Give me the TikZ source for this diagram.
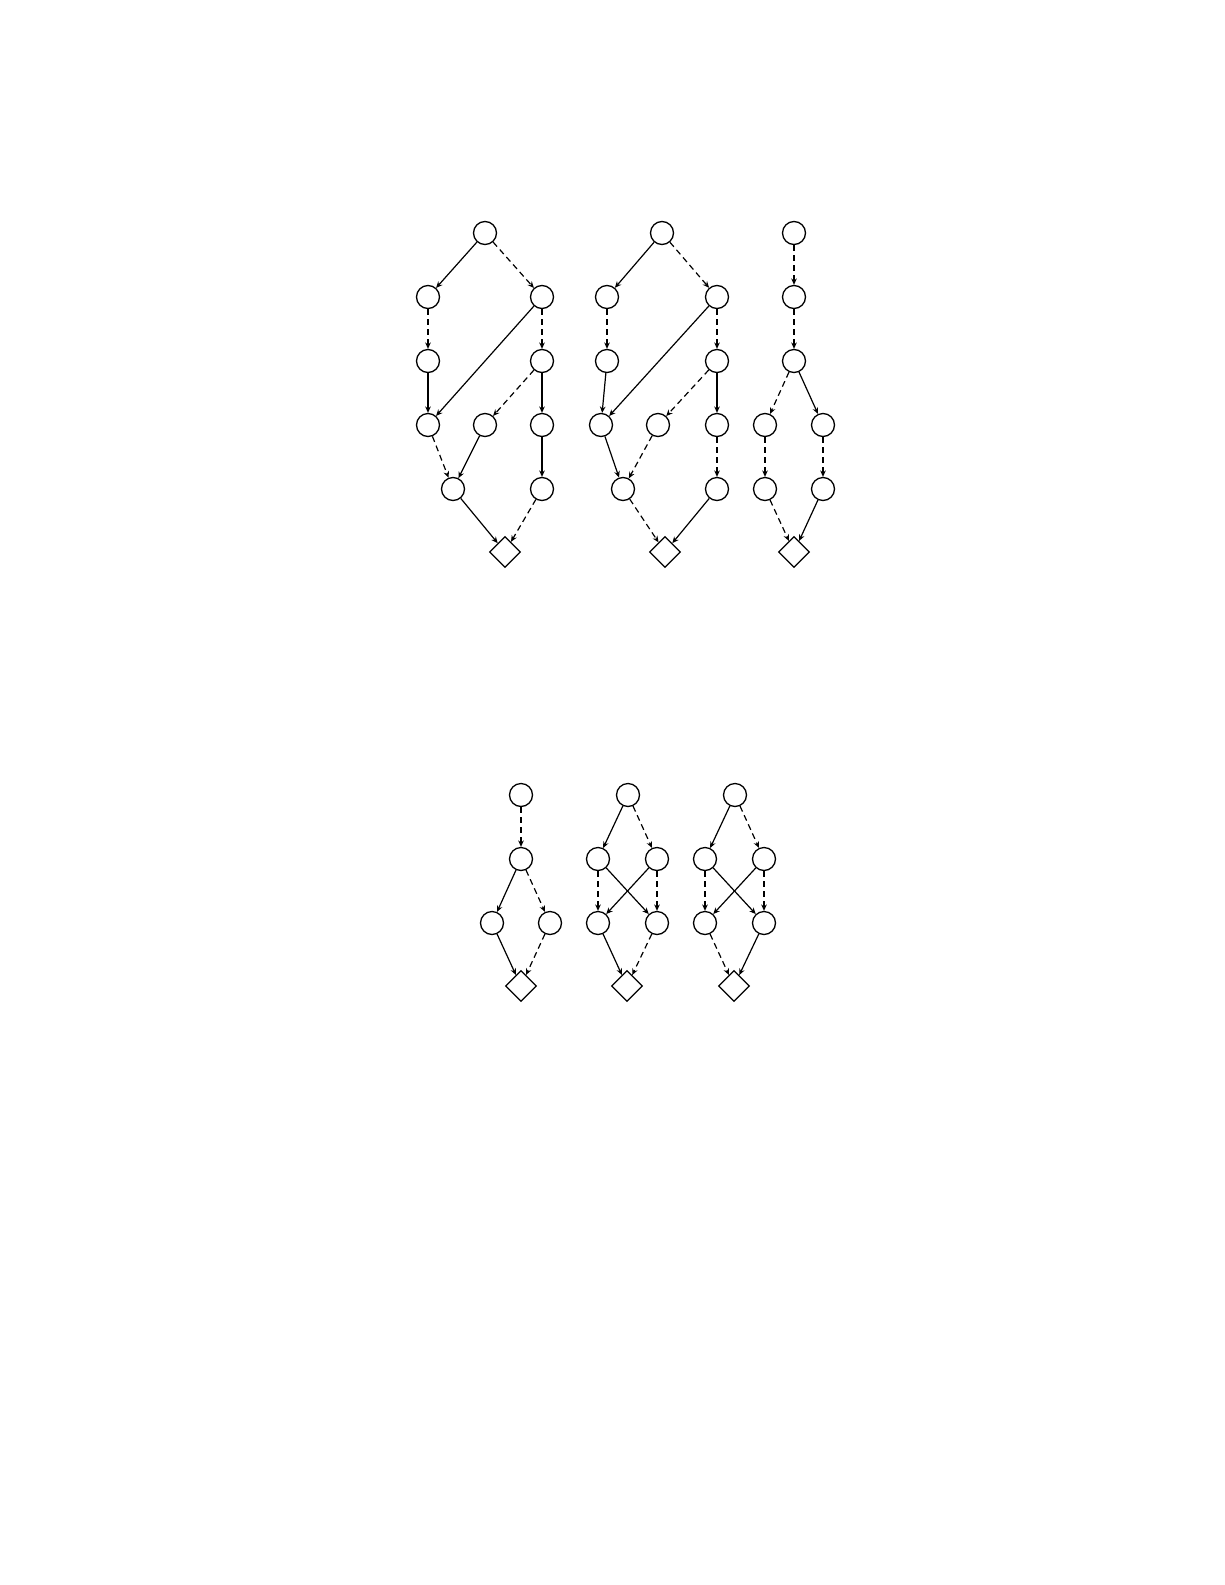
\documentclass[tikz,border=0pt]{standalone}
\usetikzlibrary{shapes.geometric,arrows.meta}
\begin{document}
\begin{tikzpicture}[x=0.5pt,y=-0.5pt,
  cnode/.style={circle,draw,line width=0.65pt,minimum size=11.5pt,inner sep=0pt},
  dnode/.style={diamond,draw,line width=0.65pt,minimum width=15.5pt,minimum height=15.5pt,inner sep=0pt},
  sedge/.style={line width=0.6pt,-{Stealth[length=3.2pt,width=2.8pt]}},
  dedge/.style={sedge,dash pattern=on 3pt off 2pt}]
\useasboundingbox (0,0) rectangle (1225,1585);
% ---------- top diagram 1
\node[cnode] (Ar) at (485,233) {};
\node[cnode] (Aa) at (428,297) {};
\node[cnode] (Ab) at (542,297) {};
\node[cnode] (Ac) at (428,361) {};
\node[cnode] (Ad) at (542,361) {};
\node[cnode] (Ae) at (428,425) {};
\node[cnode] (Af) at (485,425) {};
\node[cnode] (Ag) at (542,425) {};
\node[cnode] (Ah) at (453,489) {};
\node[cnode] (Ai) at (542,489) {};
\node[dnode] (AD) at (505,552) {};
\draw[sedge] (Ar) -- (Aa);
\draw[dedge] (Ar) -- (Ab);
\draw[dedge] (Aa) -- (Ac);
\draw[dedge] (Ab) -- (Ad);
\draw[sedge] (Ab) -- (Ae);
\draw[sedge] (Ac) -- (Ae);
\draw[dedge] (Ad) -- (Af);
\draw[sedge] (Ad) -- (Ag);
\draw[dedge] (Ae) -- (Ah);
\draw[sedge] (Af) -- (Ah);
\draw[sedge] (Ag) -- (Ai);
\draw[sedge] (Ah) -- (AD);
\draw[dedge] (Ai) -- (AD);
% ---------- top diagram 2
\node[cnode] (Br) at (662,233) {};
\node[cnode] (Ba) at (607,297) {};
\node[cnode] (Bb) at (717,297) {};
\node[cnode] (Bc) at (607,361) {};
\node[cnode] (Bd) at (717,361) {};
\node[cnode] (Be) at (601,425) {};
\node[cnode] (Bf) at (658,425) {};
\node[cnode] (Bg) at (717,425) {};
\node[cnode] (Bh) at (623,489) {};
\node[cnode] (Bi) at (717,489) {};
\node[dnode] (BD) at (665,552) {};
\draw[sedge] (Br) -- (Ba);
\draw[dedge] (Br) -- (Bb);
\draw[dedge] (Ba) -- (Bc);
\draw[dedge] (Bb) -- (Bd);
\draw[sedge] (Bb) -- (Be);
\draw[sedge] (Bc) -- (Be);
\draw[dedge] (Bd) -- (Bf);
\draw[sedge] (Bd) -- (Bg);
\draw[sedge] (Be) -- (Bh);
\draw[dedge] (Bf) -- (Bh);
\draw[dedge] (Bg) -- (Bi);
\draw[dedge] (Bh) -- (BD);
\draw[sedge] (Bi) -- (BD);
% ---------- top diagram 3
\node[cnode] (Cr) at (794,233) {};
\node[cnode] (Ca) at (794,297) {};
\node[cnode] (Cb) at (794,361) {};
\node[cnode] (Cc) at (765,425) {};
\node[cnode] (Cd) at (823,425) {};
\node[cnode] (Ce) at (765,489) {};
\node[cnode] (Cf) at (823,489) {};
\node[dnode] (CD) at (794,552) {};
\draw[dedge] (Cr) -- (Ca);
\draw[dedge] (Ca) -- (Cb);
\draw[dedge] (Cb) -- (Cc);
\draw[sedge] (Cb) -- (Cd);
\draw[dedge] (Cc) -- (Ce);
\draw[dedge] (Cd) -- (Cf);
\draw[dedge] (Ce) -- (CD);
\draw[sedge] (Cf) -- (CD);
% ---------- bottom diagram 1
\node[cnode] (Dr) at (521,795) {};
\node[cnode] (Da) at (521,859) {};
\node[cnode] (Db) at (492,923) {};
\node[cnode] (Dc) at (550,923) {};
\node[dnode] (DD) at (521,986) {};
\draw[dedge] (Dr) -- (Da);
\draw[sedge] (Da) -- (Db);
\draw[dedge] (Da) -- (Dc);
\draw[sedge] (Db) -- (DD);
\draw[dedge] (Dc) -- (DD);
% ---------- bottom diagram 2
\node[cnode] (Er) at (628,795) {};
\node[cnode] (Ea) at (598,859) {};
\node[cnode] (Eb) at (657,859) {};
\node[cnode] (Ec) at (598,923) {};
\node[cnode] (Ed) at (657,923) {};
\node[dnode] (ED) at (627,986) {};
\draw[sedge] (Er) -- (Ea);
\draw[dedge] (Er) -- (Eb);
\draw[dedge] (Ea) -- (Ec);
\draw[dedge] (Eb) -- (Ed);
\draw[sedge] (Ea) -- (Ed);
\draw[sedge] (Eb) -- (Ec);
\draw[sedge] (Ec) -- (ED);
\draw[dedge] (Ed) -- (ED);
% ---------- bottom diagram 3
\node[cnode] (Fr) at (735,795) {};
\node[cnode] (Fa) at (705,859) {};
\node[cnode] (Fb) at (764,859) {};
\node[cnode] (Fc) at (705,923) {};
\node[cnode] (Fd) at (764,923) {};
\node[dnode] (FD) at (734,986) {};
\draw[sedge] (Fr) -- (Fa);
\draw[dedge] (Fr) -- (Fb);
\draw[dedge] (Fa) -- (Fc);
\draw[dedge] (Fb) -- (Fd);
\draw[sedge] (Fa) -- (Fd);
\draw[sedge] (Fb) -- (Fc);
\draw[dedge] (Fc) -- (FD);
\draw[sedge] (Fd) -- (FD);
\end{tikzpicture}
\end{document}
